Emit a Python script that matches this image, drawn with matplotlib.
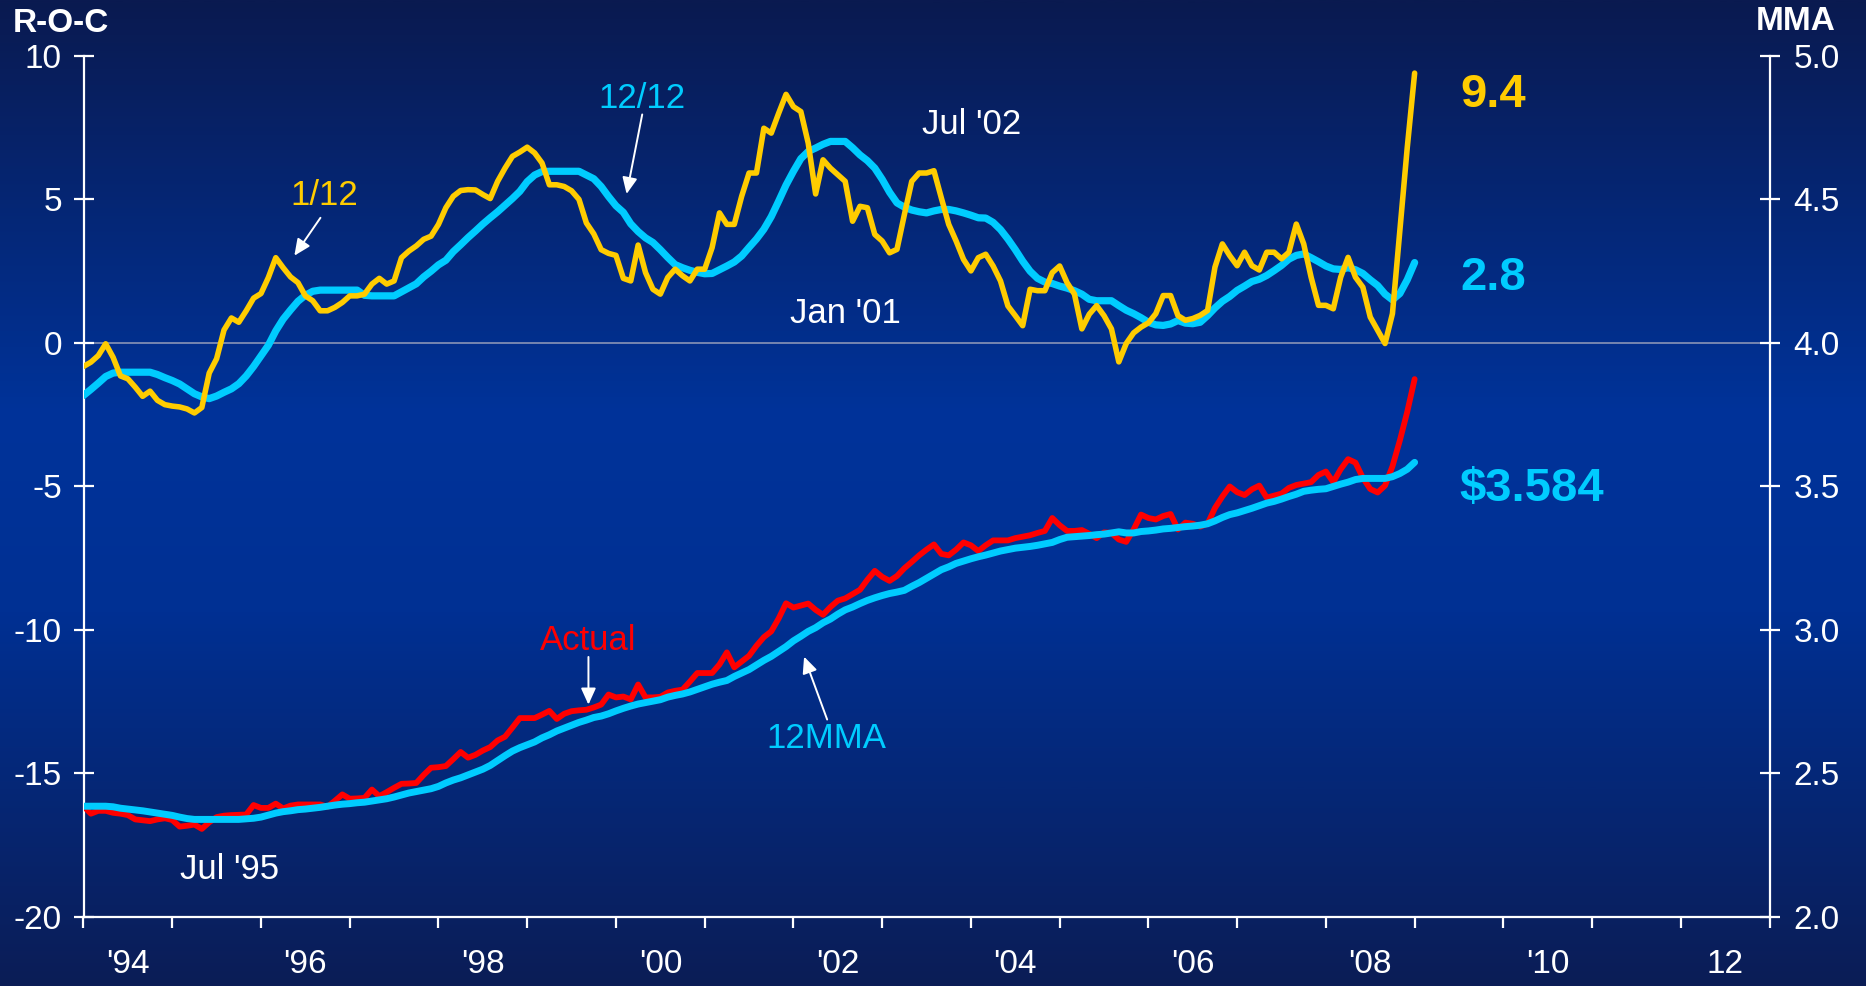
import numpy as np
import matplotlib
matplotlib.use('Agg')
import matplotlib.pyplot as plt
from matplotlib.colors import LinearSegmentedColormap

plt.rcParams['font.family'] = ['Liberation Sans Narrow', 'Liberation Sans', 'DejaVu Sans']

# ---------------- data (monthly, Jan 1994 onward) ----------------
START_YEAR = 1994

roc_1_12 = [
    -0.82, -0.67, -0.44, -0.03, -0.50, -1.15, -1.25, -1.54, -1.86, -1.68,
    -2.00, -2.15, -2.20, -2.23, -2.30, -2.44, -2.25, -1.05, -0.55, 0.45,
    0.87, 0.72, 1.12, 1.56, 1.72, 2.28, 2.97, 2.62, 2.30, 2.10,
    1.64, 1.47, 1.12, 1.12, 1.24, 1.41, 1.64, 1.64, 1.70, 2.05,
    2.25, 2.05, 2.16, 2.97, 3.20, 3.38, 3.61, 3.72, 4.13, 4.71,
    5.11, 5.31, 5.34, 5.33, 5.17, 5.03, 5.63, 6.09, 6.50, 6.65,
    6.82, 6.62, 6.27, 5.51, 5.51, 5.45, 5.30, 5.00, 4.18, 3.80,
    3.25, 3.12, 3.05, 2.25, 2.16, 3.41, 2.45, 1.87, 1.70, 2.28,
    2.57, 2.34, 2.16, 2.57, 2.57, 3.32, 4.53, 4.13, 4.13, 5.11,
    5.92, 5.92, 7.48, 7.31, 8.00, 8.66, 8.23, 8.06, 6.96, 5.19,
    6.38, 6.09, 5.86, 5.63, 4.24, 4.76, 4.71, 3.78, 3.55, 3.14,
    3.26, 4.47, 5.63, 5.92, 5.92, 6.00, 5.05, 4.13, 3.55, 2.91,
    2.51, 2.97, 3.09, 2.68, 2.16, 1.29, 0.95, 0.60, 1.87, 1.82,
    1.82, 2.45, 2.68, 2.10, 1.70, 0.49, 1.00, 1.30, 0.95, 0.49,
    -0.66, -0.02, 0.35, 0.55, 0.70, 1.02, 1.65, 1.65, 0.95, 0.79,
    0.85, 0.96, 1.13, 2.64, 3.45, 3.04, 2.69, 3.16, 2.69, 2.54,
    3.16, 3.16, 2.93, 3.16, 4.14, 3.45, 2.29, 1.31, 1.31, 1.19,
    2.29, 2.98, 2.29, 1.94, 0.90, 0.44, -0.02, 1.02, 3.91, 6.80,
    9.40,
]

roc_12_12 = [
    -1.83, -1.62, -1.40, -1.17, -1.05, -1.02, -1.02, -1.02, -1.02, -1.02,
    -1.10, -1.21, -1.31, -1.43, -1.60, -1.77, -1.88, -1.94, -1.85, -1.72,
    -1.60, -1.42, -1.15, -0.82, -0.45, -0.08, 0.42, 0.83, 1.15, 1.45,
    1.66, 1.80, 1.84, 1.84, 1.84, 1.84, 1.84, 1.84, 1.66, 1.64,
    1.64, 1.64, 1.64, 1.78, 1.92, 2.06, 2.30, 2.50, 2.72, 2.88,
    3.18, 3.42, 3.67, 3.90, 4.14, 4.36, 4.57, 4.80, 5.03, 5.28,
    5.62, 5.85, 5.97, 5.98, 5.98, 5.98, 5.98, 5.98, 5.85, 5.72,
    5.45, 5.10, 4.78, 4.55, 4.15, 3.88, 3.66, 3.50, 3.25, 2.98,
    2.73, 2.62, 2.53, 2.46, 2.41, 2.42, 2.55, 2.68, 2.82, 3.03,
    3.33, 3.62, 3.96, 4.40, 4.94, 5.50, 5.98, 6.42, 6.67, 6.79,
    6.92, 7.02, 7.02, 7.02, 6.80, 6.55, 6.35, 6.09, 5.70, 5.25,
    4.88, 4.73, 4.63, 4.57, 4.53, 4.60, 4.65, 4.65, 4.60, 4.53,
    4.45, 4.36, 4.35, 4.20, 3.95, 3.62, 3.25, 2.85, 2.50, 2.25,
    2.12, 2.07, 1.98, 1.91, 1.82, 1.70, 1.52, 1.47, 1.47, 1.47,
    1.30, 1.14, 1.02, 0.88, 0.72, 0.63, 0.61, 0.66, 0.78, 0.69,
    0.67, 0.72, 0.95, 1.22, 1.45, 1.62, 1.83, 1.98, 2.14, 2.22,
    2.35, 2.52, 2.70, 2.92, 3.05, 3.10, 2.97, 2.83, 2.68, 2.58,
    2.56, 2.62, 2.55, 2.42, 2.20, 2.00, 1.70, 1.50, 1.72, 2.20,
    2.80,
]

actual = [
    2.386, 2.360, 2.370, 2.370, 2.363, 2.360, 2.355, 2.340, 2.337, 2.334,
    2.340, 2.344, 2.338, 2.315, 2.318, 2.322, 2.307, 2.330, 2.348, 2.353,
    2.355, 2.356, 2.357, 2.390, 2.380, 2.380, 2.395, 2.378, 2.388, 2.392,
    2.392, 2.392, 2.392, 2.384, 2.405, 2.427, 2.412, 2.413, 2.415, 2.444,
    2.421, 2.435, 2.450, 2.464, 2.465, 2.467, 2.495, 2.520, 2.522, 2.526,
    2.550, 2.575, 2.555, 2.565, 2.580, 2.592, 2.615, 2.628, 2.660, 2.693,
    2.693, 2.693, 2.705, 2.718, 2.690, 2.708, 2.717, 2.720, 2.722, 2.730,
    2.740, 2.775, 2.765, 2.768, 2.758, 2.810, 2.765, 2.765, 2.767, 2.782,
    2.788, 2.792, 2.820, 2.850, 2.850, 2.850, 2.880, 2.922, 2.870, 2.890,
    2.910, 2.945, 2.975, 2.995, 3.040, 3.093, 3.078, 3.085, 3.092, 3.070,
    3.053, 3.080, 3.102, 3.110, 3.125, 3.140, 3.175, 3.206, 3.185, 3.171,
    3.188, 3.215, 3.237, 3.260, 3.280, 3.298, 3.265, 3.260, 3.280, 3.305,
    3.295, 3.275, 3.295, 3.312, 3.312, 3.312, 3.320, 3.325, 3.330, 3.338,
    3.345, 3.390, 3.365, 3.345, 3.345, 3.348, 3.335, 3.320, 3.340, 3.338,
    3.315, 3.307, 3.350, 3.402, 3.390, 3.385, 3.397, 3.404, 3.350, 3.374,
    3.370, 3.360, 3.370, 3.425, 3.465, 3.500, 3.480, 3.470, 3.490, 3.503,
    3.461, 3.468, 3.475, 3.495, 3.505, 3.510, 3.515, 3.540, 3.552, 3.515,
    3.560, 3.595, 3.583, 3.530, 3.491, 3.479, 3.503, 3.570, 3.660, 3.760,
    3.874,
]

mma12 = [
    2.386, 2.386, 2.386, 2.386, 2.384, 2.379, 2.376, 2.373, 2.370, 2.366,
    2.362, 2.358, 2.354, 2.348, 2.343, 2.340, 2.340, 2.340, 2.340, 2.340,
    2.340, 2.340, 2.342, 2.344, 2.348, 2.355, 2.362, 2.367, 2.370, 2.374,
    2.376, 2.379, 2.382, 2.386, 2.390, 2.393, 2.395, 2.398, 2.400, 2.404,
    2.408, 2.412, 2.418, 2.425, 2.432, 2.437, 2.442, 2.447, 2.455, 2.467,
    2.477, 2.485, 2.495, 2.505, 2.515, 2.528, 2.545, 2.562, 2.578, 2.590,
    2.600, 2.610, 2.624, 2.635, 2.648, 2.658, 2.668, 2.678, 2.686, 2.695,
    2.700, 2.708, 2.718, 2.727, 2.735, 2.742, 2.747, 2.752, 2.757, 2.766,
    2.772, 2.777, 2.784, 2.793, 2.802, 2.811, 2.818, 2.824, 2.838, 2.850,
    2.862, 2.878, 2.894, 2.908, 2.925, 2.942, 2.962, 2.978, 2.995, 3.008,
    3.025, 3.038, 3.055, 3.070, 3.080, 3.092, 3.103, 3.112, 3.120, 3.127,
    3.132, 3.138, 3.152, 3.165, 3.180, 3.195, 3.210, 3.220, 3.232, 3.240,
    3.248, 3.255, 3.261, 3.268, 3.275, 3.280, 3.285, 3.288, 3.291, 3.295,
    3.300, 3.305, 3.315, 3.323, 3.325, 3.327, 3.329, 3.332, 3.334, 3.338,
    3.342, 3.338, 3.338, 3.343, 3.345, 3.348, 3.352, 3.354, 3.357, 3.360,
    3.362, 3.365, 3.370, 3.380, 3.392, 3.402, 3.408, 3.416, 3.424, 3.433,
    3.442, 3.448, 3.456, 3.465, 3.473, 3.483, 3.487, 3.490, 3.492, 3.500,
    3.508, 3.515, 3.524, 3.528, 3.528, 3.528, 3.528, 3.534, 3.545, 3.560,
    3.584,
]

year_labels = ["'94", "'96", "'98", "'00", "'02", "'04", "'06", "'08", "'10", "12"]
left_ticks = [-20, -15, -10, -5, 0, 5, 10]
left_tick_labels = ['-20', '-15', '-10', '-5', '0', '5', '10']
right_ticks = [2.0, 2.5, 3.0, 3.5, 4.0, 4.5, 5.0]
right_tick_labels = ['2.0', '2.5', '3.0', '3.5', '4.0', '4.5', '5.0']

# ---------------- styling ----------------
W, H, DPI = 1866, 986, 100
YELLOW = '#FFCC00'
CYAN = '#00CCFF'
RED = '#FF0000'
WHITE = 'white'

fig = plt.figure(figsize=(W / DPI, H / DPI), dpi=DPI)

# background gradient
bg = fig.add_axes([0, 0, 1, 1], zorder=-10)
cmap = LinearSegmentedColormap.from_list(
    'bg', [(0.0, '#0a1a50'), (0.42, '#00339a'), (0.62, '#003093'), (1.0, '#0b1d56')])
grad = np.linspace(0, 1, 512).reshape(-1, 1)
bg.imshow(grad, cmap=cmap, aspect='auto', extent=[0, 1, 0, 1], origin='upper')
bg.set_axis_off()

L, R = 83.5 / W, 1769.6 / W
T, B = 1 - 55.9 / H, 1 - 917.0 / H
ax = fig.add_axes([L, B, R - L, T - B])
ax.patch.set_alpha(0)
ax2 = ax.twinx()
ax2.patch.set_alpha(0)

x = START_YEAR + np.arange(len(roc_1_12)) / 12.0

ax.axhline(0, color='#959eba', lw=1.1, zorder=1)
ax.plot(x, roc_12_12, color=CYAN, lw=5.2, solid_joinstyle='round', solid_capstyle='round', zorder=3)
ax.plot(x, roc_1_12, color=YELLOW, lw=4.0, solid_joinstyle='round', solid_capstyle='round', zorder=4)
ax2.plot(x, actual, color=RED, lw=4.2, solid_joinstyle='round', solid_capstyle='round', zorder=3)
ax2.plot(x, mma12, color=CYAN, lw=5.0, solid_joinstyle='round', solid_capstyle='round', zorder=4)

ax.set_xlim(1994, 2013)
ax.set_ylim(-20, 10)
ax2.set_ylim(2.0, 5.0)

for a in (ax, ax2):
    for s in a.spines.values():
        s.set_color(WHITE)
        s.set_linewidth(1.6)
    a.spines['top'].set_visible(False)
ax.spines['right'].set_visible(False)
ax2.spines['left'].set_visible(False)
ax2.spines['bottom'].set_visible(False)

ax.set_yticks(left_ticks)
ax.set_yticklabels(left_tick_labels)
ax.tick_params(axis='y', direction='inout', length=14, width=1.6, colors=WHITE,
               labelsize=24, pad=8.5)
ax2.set_yticks(right_ticks)
ax2.set_yticklabels(right_tick_labels)
ax2.tick_params(axis='y', direction='inout', length=14, width=1.6, colors=WHITE,
                labelsize=24, pad=10.0)

ax.set_xticks(np.arange(1994, 2014))
ax.set_xticklabels([])
ax.set_xticks(np.arange(1994, 2013, 2) + 0.5, minor=True)
ax.set_xticklabels(year_labels, minor=True)
ax.tick_params(axis='x', which='major', direction='out', length=8, width=1.6, colors=WHITE)
ax.tick_params(axis='x', which='minor', length=0, colors=WHITE, labelsize=24, pad=23)

# axis titles
fig.text(13 / W, 1 - 23 / H, 'R-O-C', color=WHITE, fontsize=24, fontweight='bold',
         ha='left', va='center')
fig.text(1836 / W, 1 - 22 / H, 'MMA', color=WHITE, fontsize=24, fontweight='bold',
         ha='right', va='center')

# annotations
arrow = dict(arrowstyle='-|>,head_length=0.55,head_width=0.25', color=WHITE, lw=1.4,
             mutation_scale=18, shrinkA=0, shrinkB=0)
ax.text(1996.715, 5.12, '1/12', color=YELLOW, fontsize=25, ha='center', va='center')
ax.annotate('', xy=(1996.376, 3.04), xytext=(1996.67, 4.36), arrowprops=arrow)
ax.text(2000.296, 8.52, '12/12', color=CYAN, fontsize=25, ha='center', va='center')
ax.annotate('', xy=(2000.12, 5.19), xytext=(2000.296, 7.96), arrowprops=arrow)
ax.text(2004.013, 7.62, "Jul '02", color=WHITE, fontsize=25, ha='center', va='center')
ax.text(2002.59, 1.03, "Jan '01", color=WHITE, fontsize=25, ha='center', va='center')
ax.text(1999.69, -10.38, 'Actual', color=RED, fontsize=25, ha='center', va='center')
ax.annotate('', xy=(1999.69, -12.6), xytext=(1999.69, -10.94), arrowprops=arrow)
ax.text(2002.37, -13.78, '12MMA', color=CYAN, fontsize=25, ha='center', va='center')
ax.annotate('', xy=(2002.12, -10.93), xytext=(2002.38, -13.12), arrowprops=arrow)
ax.text(1995.65, -18.35, "Jul '95", color=WHITE, fontsize=25, ha='center', va='center')

# latest values
ax.text(2009.51, 8.65, '9.4', color=YELLOW, fontsize=34, fontweight='bold',
        ha='left', va='center')
ax.text(2009.51, 2.27, '2.8', color=CYAN, fontsize=34, fontweight='bold',
        ha='left', va='center')
ax.text(2009.51, -5.08, '$3.584', color=CYAN, fontsize=34, fontweight='bold',
        ha='left', va='center')

fig.savefig('out.png', dpi=DPI)
